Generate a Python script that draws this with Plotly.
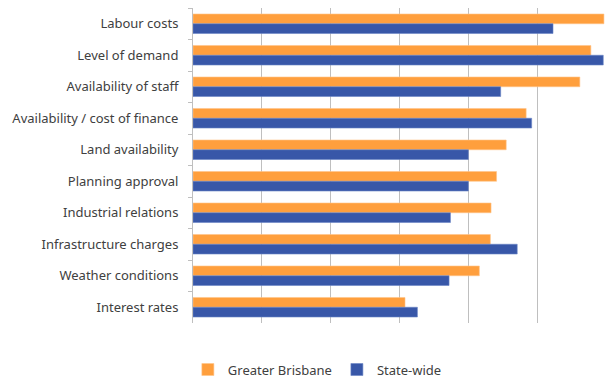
import plotly.graph_objects as go

categories = ["Labour costs", "Level of demand", "Availability of staff",
              "Availability / cost of finance", "Land availability", "Planning approval",
              "Industrial relations", "Infrastructure charges", "Weather conditions",
              "Interest rates"]
greater_brisbane = [5.97, 5.78, 5.62, 4.84, 4.55, 4.41, 4.33, 4.32, 4.16, 3.08]
state_wide = [5.23, 5.96, 4.47, 4.92, 4.00, 4.00, 3.74, 4.71, 3.72, 3.26]
x_ticks = [0, 1, 2, 3, 4, 5, 6]

fig = go.Figure()
fig.add_trace(go.Bar(y=categories, x=greater_brisbane, orientation="h", name="Greater Brisbane",
                     marker=dict(color="#FF9F3D", line=dict(color="#FFC58A", width=0.6))))
fig.add_trace(go.Bar(y=categories, x=state_wide, orientation="h", name="State-wide",
                     marker=dict(color="#3857A8", line=dict(color="#6A84C4", width=0.6))))

fig.update_layout(
    width=606, height=381,
    margin=dict(l=193, r=0, t=8, b=58),
    paper_bgcolor="white", plot_bgcolor="white",
    barmode="group", bargap=0.38, bargroupgap=0,
    font=dict(family="Noto Sans", size=13, color="#404040"),
    showlegend=True,
    legend=dict(orientation="h", xref="container", yref="container",
                x=0.31, xanchor="left", y=0.03, yanchor="middle",
                font=dict(size=13, color="#404040"), traceorder="normal",
                itemwidth=30),
    xaxis=dict(range=[0, 6], tickvals=x_ticks, showticklabels=False,
               showgrid=True, gridcolor="#BFBFBF", gridwidth=1,
               zeroline=False, showline=False),
    yaxis=dict(autorange="reversed", type="category", tickson="boundaries",
               ticks="outside", ticklen=4, tickcolor="#BFBFBF",
               showline=True, linecolor="#BFBFBF", linewidth=1,
               showgrid=False, ticklabelstandoff=11),
)

fig.write_html("out.html")
